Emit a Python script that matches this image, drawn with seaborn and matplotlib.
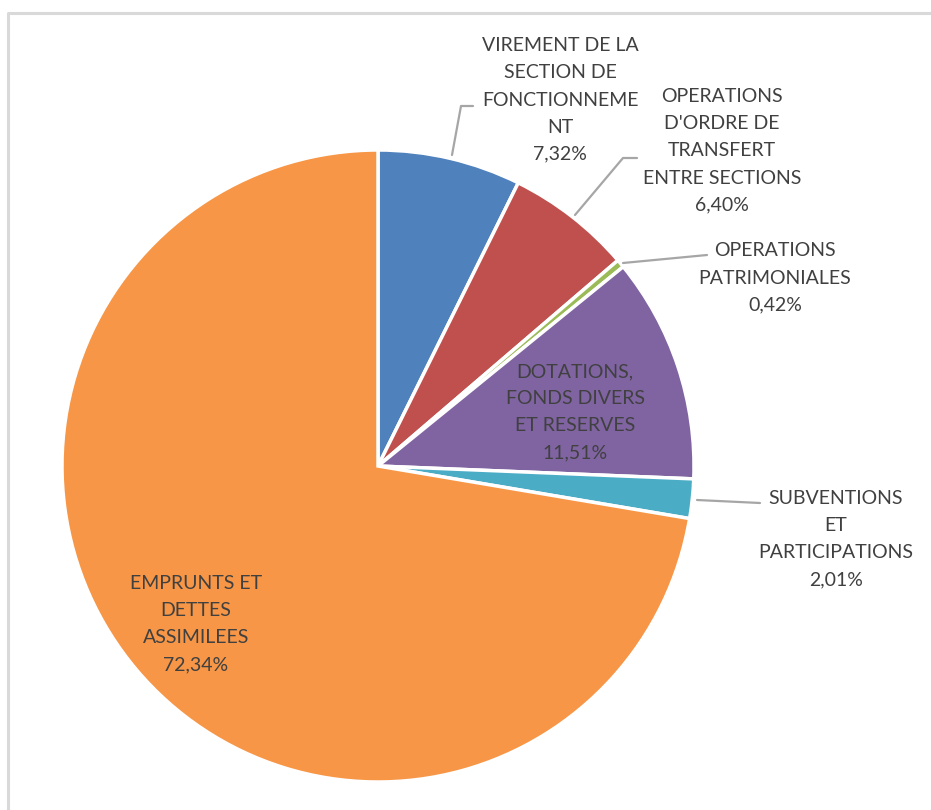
import matplotlib
matplotlib.use("Agg")
import matplotlib.pyplot as plt
import seaborn as sns

sns.set_theme(style="white")
plt.rcParams['font.family'] = ['Lato', 'DejaVu Sans']

categories = [
    "VIREMENT DE LA\nSECTION DE\nFONCTIONNEME\nNT",
    "OPERATIONS\nD'ORDRE DE\nTRANSFERT\nENTRE SECTIONS",
    "OPERATIONS\nPATRIMONIALES",
    "DOTATIONS,\nFONDS DIVERS\nET RESERVES",
    "SUBVENTIONS\nET\nPARTICIPATIONS",
    "EMPRUNTS ET\nDETTES\nASSIMILEES",
]
values = [7.32, 6.40, 0.42, 11.51, 2.01, 72.34]
value_labels = ["7,32%", "6,40%", "0,42%", "11,51%", "2,01%", "72,34%"]
colors = ["#4F81BD", "#C0504D", "#9BBB59", "#8064A2", "#4BACC6", "#F79646"]

W, H = 931, 810
fig = plt.figure(figsize=(W / 100, H / 100), dpi=100)
ax = fig.add_axes([0, 0, 1, 1])
ax.set_xlim(0, W)
ax.set_ylim(0, H)
ax.set_aspect("equal")
ax.axis("off")

def Y(y):
    return H - y

# chart border
ax.plot([8, 8, W + 5], [Y(H + 5), Y(13), Y(13)], color="#D9D9D9", lw=2.2,
        solid_capstyle="butt")

cx, cy, r = 378, 466, 316
ax.pie(values, colors=colors, startangle=90, counterclock=False,
       center=(cx, Y(cy)), radius=r,
       wedgeprops=dict(edgecolor="white", linewidth=2.5))
ax.set_xlim(0, W)
ax.set_ylim(0, H)

# label positions (pixel coords, center of block)
label_pos = [(560, 100), (722, 151), (775, 278), (575, 412), (836, 539), (196, 624)]
for cat, vl, (lx, ly) in zip(categories, value_labels, label_pos):
    ax.text(lx, Y(ly), cat + "\n" + vl, ha="center", va="center",
            fontsize=14, color="#404040", linespacing=1.72)

# leader lines
leaders = [
    [(452, 155), (461, 106), (473, 106)],
    [(575, 215), (623, 158), (637, 158)],
    [(623, 263), (707, 255)],
    [(697, 500), (760, 503)],
]
for pts in leaders:
    xs = [p[0] for p in pts]
    ys = [Y(p[1]) for p in pts]
    ax.plot(xs, ys, color="#A6A6A6", lw=1.6)

fig.savefig("out.png", dpi=100, facecolor="white")
